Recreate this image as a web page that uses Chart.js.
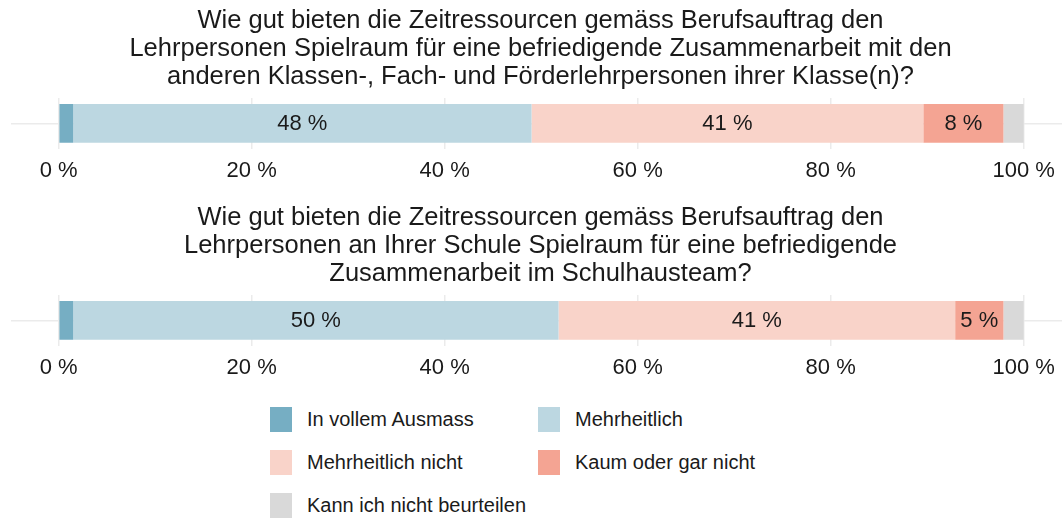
<!DOCTYPE html>
<html>
<head>
<meta charset="utf-8">
<script src="https://cdn.jsdelivr.net/npm/chart.js@4.4.0/dist/chart.umd.min.js"></script>
<style>
    body {
        margin: 0;
        background: #ffffff;
        width: 1062px;
        height: 518px;
        overflow: hidden;
        position: relative;
        font-family: "Liberation Sans", Arial, sans-serif;
    }
    .panel { position: absolute; left: 0; }
    #panel1 { top: 0; }
    #panel2 { top: 197px; }
    #legende {
        position: absolute;
        left: 270px;
        top: 407px;
        display: grid;
        grid-template-columns: 268px 268px;
        grid-auto-rows: 43px;
    }
    .eintrag { display: flex; align-items: flex-start; font-size: 20px; color: #1a1a1a; }
    .kasten { width: 22px; height: 25px; margin-right: 15px; flex: none; }
    .eintrag span { line-height: 25px; }
</style>
</head>
<body>
<canvas id="panel1" class="panel" width="1070" height="193"></canvas>
<canvas id="panel2" class="panel" width="1070" height="193"></canvas>
<div id="legende"></div>

<script>
var kategorien = ['In vollem Ausmass', 'Mehrheitlich', 'Mehrheitlich nicht', 'Kaum oder gar nicht', 'Kann ich nicht beurteilen'];
var farben = ['#76aec3', '#bcd7e1', '#f9d3c9', '#f4a493', '#d9d9d9'];

var titel1 = [
    'Wie gut bieten die Zeitressourcen gemäss Berufsauftrag den',
    'Lehrpersonen Spielraum für eine befriedigende Zusammenarbeit mit den',
    'anderen Klassen-, Fach- und Förderlehrpersonen ihrer Klasse(n)?'
];
var titel2 = [
    'Wie gut bieten die Zeitressourcen gemäss Berufsauftrag den',
    'Lehrpersonen an Ihrer Schule Spielraum für eine befriedigende',
    'Zusammenarbeit im Schulhausteam?'
];

// Anteile in %, Reihenfolge wie kategorien
var werte1 = [1.5, 47.5, 40.6, 8.3, 2.1];
var werte2 = [1.5, 50.3, 41.1, 5.0, 2.1];

var xTicks = [0, 20, 40, 60, 80, 100];

var schrift = '"Liberation Sans", Arial, sans-serif';

// schreibt die gerundeten Prozente mitten in die Balkenstücke
var balkenBeschriftung = {
    id: 'balkenBeschriftung',
    afterDatasetsDraw: function (chart) {
        var ctx = chart.ctx;
        ctx.save();
        ctx.font = '22px ' + schrift;
        ctx.fillStyle = '#1a1a1a';
        ctx.textAlign = 'center';
        ctx.textBaseline = 'middle';
        chart.data.datasets.forEach(function (ds, i) {
            var wert = ds.data[0];
            if (wert < 4) return;
            var balken = chart.getDatasetMeta(i).data[0];
            ctx.fillText(Math.round(wert) + ' %', (balken.x + balken.base) / 2, balken.y + 1);
        });
        ctx.restore();
    }
};

function erstelleGrafik(id, titel, werte) {
    var datensaetze = kategorien.map(function (k, i) {
        return {
            label: k,
            data: [werte[i]],
            backgroundColor: farben[i],
            borderWidth: 0,
            barPercentage: 0.765,
            categoryPercentage: 1
        };
    });

    return new Chart(document.getElementById(id), {
        type: 'bar',
        data: { labels: [''], datasets: datensaetze },
        plugins: [balkenBeschriftung],
        options: {
            responsive: false,
            animation: false,
            indexAxis: 'y',
            layout: { padding: { left: 11, right: 0, top: 0, bottom: 0 } },
            plugins: {
                legend: { display: false },
                tooltip: { enabled: false },
                title: {
                    display: true,
                    text: titel,
                    color: '#1a1a1a',
                    font: { family: schrift, size: 25.5, weight: 'normal', lineHeight: 1.086 },
                    padding: { top: 7.5, bottom: 7.5 }
                }
            },
            scales: {
                x: {
                    type: 'linear',
                    stacked: true,
                    min: -4.94,
                    max: 104.8,
                    afterBuildTicks: function (skala) {
                        skala.ticks = xTicks.map(function (v) { return { value: v }; });
                    },
                    grid: { color: '#ebebeb', lineWidth: 1.5, drawTicks: false },
                    border: { display: false },
                    ticks: {
                        callback: function (v) { return v + ' %'; },
                        color: '#1a1a1a',
                        font: { family: schrift, size: 22 },
                        padding: 9,
                        maxRotation: 0,
                        autoSkip: false
                    }
                },
                y: {
                    stacked: true,
                    grid: { offset: false, color: '#ebebeb', lineWidth: 1.5, drawTicks: false },
                    border: { display: false },
                    ticks: { display: false }
                }
            }
        }
    });
}

var grafik1 = erstelleGrafik('panel1', titel1, werte1);
var grafik2 = erstelleGrafik('panel2', titel2, werte2);

// Legende aus den Datensätzen der Grafik
var legende = document.getElementById('legende');
grafik2.data.datasets.forEach(function (ds) {
    var eintrag = document.createElement('div');
    eintrag.className = 'eintrag';
    var kasten = document.createElement('div');
    kasten.className = 'kasten';
    kasten.style.background = ds.backgroundColor;
    var text = document.createElement('span');
    text.textContent = ds.label;
    eintrag.appendChild(kasten);
    eintrag.appendChild(text);
    legende.appendChild(eintrag);
});
</script>
</body>
</html>
